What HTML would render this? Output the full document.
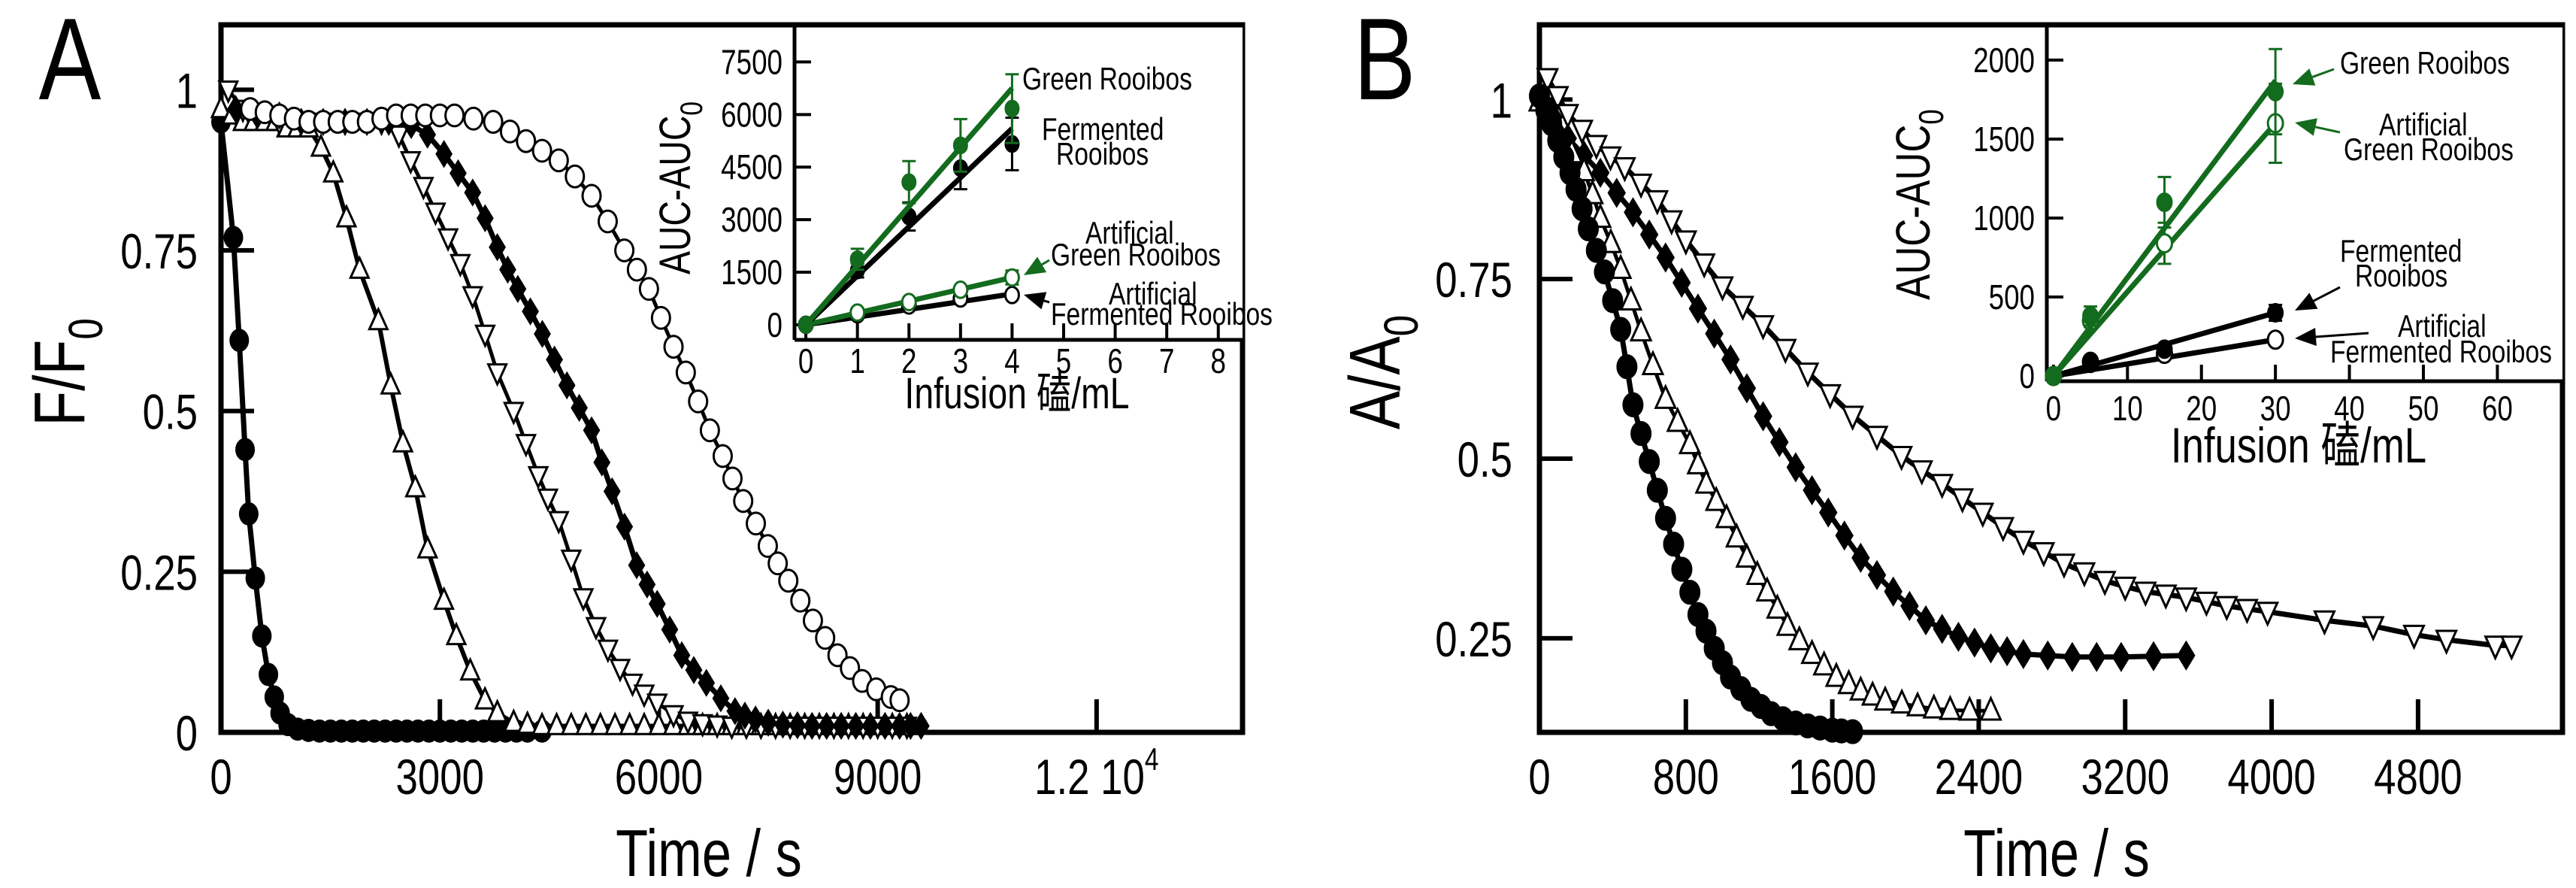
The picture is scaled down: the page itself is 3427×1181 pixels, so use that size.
<!DOCTYPE html>
<html><head><meta charset="utf-8"><style>
html,body{margin:0;padding:0;background:#fff;}
svg{display:block;}
text{font-family:"Liberation Sans Narrow","Liberation Sans","Noto Sans CJK SC",sans-serif;fill:#000;}
</style></head><body>
<svg id="fig" width="3427" height="1181" viewBox="0 0 3427 1181" xmlns="http://www.w3.org/2000/svg">
<g id="layer"></g>
</svg>
<script>
// ---------- Panel A main data ----------
const aTicksX = [0,3000,6000,9000,12000];
const aTickLabelsX = ["0","3000","6000","9000","1.2 10"];
const aTicksY = [0,0.25,0.5,0.75,1];
const aTickLabelsY = ["0","0.25","0.5","0.75","1"];
const a1T = [0,170,250,330,380,470,560,650,730,810,920,1050,1200,1350,1500,1650,1800,1950,2100,2250,2400,2550,2700,2850,3000,3150,3300,3450,3600,3750,3900,4050,4200,4400];
const a1V = [0.95,0.77,0.61,0.44,0.34,0.24,0.15,0.09,0.055,0.03,0.012,0.005,0.003,0.002,0.002,0.002,0.002,0.002,0.002,0.002,0.002,0.002,0.002,0.002,0.002,0.002,0.002,0.002,0.002,0.002,0.002,0.002,0.002,0.002];
const a2T = [0,150,300,450,600,750,900,1050,1202,1370,1539,1720,1899,2157,2326,2494,2663,2831,3056,3225,3416,3618,3787,4011,4200,4400,4600,4800,5000,5200,5400,5600,5800,6000,6200,6400,6600,6800,7000,7200,7400,7600,7800,8000,8200,8400,8600,8800,9000,9200,9400];
const a2V = [0.97,0.96,0.95,0.95,0.95,0.95,0.94,0.94,0.94,0.91,0.87,0.80,0.72,0.64,0.54,0.45,0.38,0.285,0.205,0.15,0.095,0.05,0.03,0.015,0.012,0.01,0.01,0.01,0.01,0.01,0.01,0.01,0.01,0.01,0.01,0.01,0.01,0.01,0.01,0.01,0.01,0.01,0.01,0.01,0.01,0.01,0.01,0.01,0.01,0.01,0.01];
const a3T = [100,300,500,800,1100,1400,1700,2000,2200,2438,2600,2775,2940,3112,3280,3449,3620,3787,4011,4180,4348,4480,4629,4800,4966,5140,5303,5470,5640,5800,5978,6202,6400,6600,6800,7000,7200,7400,7600,7800,8000,8200,8400,8600,8800,9000,9200,9400];
const a3V = [1.0,0.97,0.96,0.95,0.95,0.95,0.95,0.95,0.95,0.93,0.89,0.85,0.81,0.77,0.73,0.68,0.62,0.56,0.50,0.45,0.40,0.365,0.33,0.27,0.21,0.165,0.13,0.10,0.077,0.06,0.046,0.028,0.018,0.014,0.012,0.01,0.01,0.01,0.01,0.01,0.01,0.01,0.01,0.01,0.01,0.01,0.01,0.01];
const a4T = [200,500,800,1100,1400,1700,2000,2300,2607,2830,3056,3250,3449,3620,3787,3930,4068,4240,4404,4570,4741,4910,5079,5220,5360,5530,5697,5840,5978,6150,6315,6480,6652,6850,7045,7180,7326,7500,7700,7900,8100,8300,8500,8700,8900,9100,9300,9450,9595];
const a4V = [0.97,0.96,0.96,0.95,0.95,0.95,0.95,0.95,0.945,0.93,0.90,0.87,0.84,0.80,0.755,0.72,0.69,0.655,0.62,0.58,0.54,0.505,0.47,0.42,0.375,0.32,0.26,0.23,0.20,0.16,0.12,0.097,0.077,0.053,0.033,0.026,0.02,0.015,0.012,0.011,0.01,0.01,0.01,0.01,0.01,0.01,0.01,0.01,0.01];
const a5T = [400,600,800,1000,1200,1400,1600,1800,2000,2200,2400,2600,2800,3000,3200,3460,3730,3960,4180,4400,4629,4850,5079,5300,5528,5700,5865,6030,6202,6370,6539,6700,6876,7010,7157,7330,7494,7630,7775,7940,8112,8280,8449,8620,8787,8980,9180,9300];
const a5V = [0.97,0.965,0.96,0.955,0.95,0.95,0.95,0.95,0.95,0.955,0.96,0.96,0.96,0.96,0.96,0.955,0.95,0.935,0.92,0.905,0.89,0.865,0.835,0.795,0.75,0.72,0.69,0.645,0.60,0.56,0.515,0.47,0.43,0.395,0.36,0.325,0.29,0.263,0.236,0.205,0.174,0.147,0.12,0.10,0.08,0.067,0.055,0.05];
// ---------- Panel B main data ----------
const bTicksX = [0,800,1600,2400,3200,4000,4800];
const bTickLabelsX = ["0","800","1600","2400","3200","4000","4800"];
const bTicksY = [0.25,0.5,0.75,1];
const bTickLabelsY = ["0.25","0.5","0.75","1"];
const b1T = [0,35,67,100,133,167,200,233,267,311,355,400,444,478,511,555,600,644,689,733,778,822,866,910,955,1000,1044,1100,1155,1210,1266,1330,1400,1466,1533,1600,1650,1711];
const b1V = [1.005,0.985,0.966,0.943,0.92,0.898,0.875,0.848,0.82,0.79,0.76,0.72,0.68,0.628,0.575,0.535,0.496,0.456,0.417,0.381,0.346,0.314,0.283,0.26,0.236,0.216,0.196,0.18,0.165,0.155,0.145,0.138,0.132,0.128,0.125,0.122,0.121,0.12];
const b2T = [0,55,111,177,244,290,333,390,444,500,555,620,689,755,822,866,911,966,1022,1077,1133,1190,1244,1300,1355,1420,1489,1555,1622,1690,1755,1820,1889,1980,2066,2155,2244,2350,2466];
const b2V = [0.997,0.973,0.95,0.925,0.90,0.868,0.835,0.80,0.764,0.72,0.677,0.63,0.583,0.551,0.52,0.492,0.465,0.441,0.417,0.39,0.362,0.338,0.315,0.291,0.267,0.247,0.228,0.212,0.196,0.186,0.177,0.17,0.163,0.159,0.155,0.152,0.15,0.149,0.149];
const b3T = [0,77,155,244,333,422,511,600,689,777,866,955,1044,1133,1222,1311,1400,1489,1578,1666,1755,1844,1933,2022,2111,2200,2289,2377,2466,2555,2644,2777,2911,3044,3178,3355,3533];
const b3V = [1.005,0.975,0.946,0.922,0.898,0.87,0.843,0.812,0.78,0.745,0.709,0.674,0.638,0.598,0.559,0.523,0.488,0.456,0.425,0.393,0.362,0.338,0.315,0.295,0.275,0.263,0.252,0.244,0.236,0.232,0.228,0.226,0.224,0.224,0.224,0.225,0.226];
const b4T = [44,100,155,233,311,388,466,555,644,722,800,900,1000,1111,1222,1344,1466,1588,1711,1844,1978,2089,2200,2311,2422,2533,2644,2755,2866,2977,3089,3200,3311,3422,3533,3644,3755,3866,3978,4289,4555,4778,4955,5222,5311];
const b4V = [1.03,1.005,0.98,0.958,0.937,0.921,0.906,0.883,0.86,0.832,0.804,0.772,0.74,0.713,0.686,0.653,0.62,0.59,0.56,0.532,0.504,0.484,0.465,0.445,0.425,0.405,0.386,0.37,0.354,0.342,0.33,0.322,0.315,0.311,0.307,0.301,0.295,0.291,0.287,0.275,0.267,0.255,0.248,0.24,0.24];
// ---------- Inset A data ----------
const iaX = [0,1,2,3,4];
const iaGreen = [0,1870,4070,5120,6170];
const iaGreenErr = [0,300,600,750,980];
const iaGreenFit = [0,6750];
const iaFerm = [0,1550,3090,4470,5160];
const iaFermErr = [0,200,400,600,750];
const iaFermFit = [0,5600];
const iaArtGreen = [0,350,650,1000,1350];
const iaArtGreenErr = [0,60,80,100,200];
const iaArtGreenFit = [0,1350];
const iaArtFerm = [0,300,550,750,850];
const iaArtFermErr = [0,50,60,80,120];
const iaArtFermFit = [0,880];
const iaTicksX = [0,1,2,3,4,5,6,7,8];
const iaTicksY = [0,1500,3000,4500,6000,7500];
// ---------- Inset B data ----------
const ibX = [0,5,15,30];
const ibGreen = [0,380,1100,1800];
const ibGreenErr = [0,60,160,270];
const ibGreenFit = [0,1870];
const ibArtGreen = [0,350,840,1600];
const ibArtGreenErr = [0,40,130,250];
const ibArtGreenFit = [0,1600];
const ibFerm = [0,80,170,400];
const ibFermErr = [0,20,30,50];
const ibFermFit = [0,400];
const ibArtFerm = [0,90,140,230];
const ibArtFermErr = [0,15,20,30];
const ibArtFermFit = [0,230];
const ibTicksX = [0,10,20,30,40,50,60];
const ibTicksY = [0,500,1000,1500,2000];

const NS = "http://www.w3.org/2000/svg";
const layer = document.getElementById('layer');
const GREEN = "#136b1e";
const SX = 0.8;
function mk(tag, attrs, parent){
  const e = document.createElementNS(NS, tag);
  for (const k in attrs) e.setAttribute(k, attrs[k]);
  (parent||layer).appendChild(e);
  return e;
}
function lin(d0,d1,r0,r1){ return v => r0 + (v-d0)/(d1-d0)*(r1-r0); }

const axA = lin(0,14000,294,1653), ayA = lin(0,1.101,974,33);
const axB = lin(0,5589,2048,3409), ayB = lin(0.119,1.104,974,33);
const axIA = lin(-0.22,8.47,1057,1653), ayIA = lin(-430,8560,452,33);
const axIB = lin(-0.9,68.8,2723,3409), ayIB = lin(-33,1990,507,82);

function marker(g, type, x, y, r, color){
  let e;
  const c = color || "#000";
  if (type==='fc'){ e = mk('ellipse',{cx:x,cy:y,rx:r,ry:r*1.2,fill:c,stroke:c,'stroke-width':2},g); }
  else if (type==='oc'){ e = mk('ellipse',{cx:x,cy:y,rx:r,ry:r*1.2,fill:'#fff',stroke:c,'stroke-width':3},g); }
  else if (type==='ut'){ e = mk('polygon',{points:`${x},${y-r*1.3} ${x-r},${y+r*0.9} ${x+r},${y+r*0.9}`,fill:'#fff',stroke:c,'stroke-width':3},g); }
  else if (type==='dt'){ e = mk('polygon',{points:`${x},${y+r*1.3} ${x-r},${y-r*0.9} ${x+r},${y-r*0.9}`,fill:'#fff',stroke:c,'stroke-width':3},g); }
  else { e = mk('polygon',{points:`${x},${y-r*1.4} ${x+r*0.85},${y} ${x},${y+r*1.4} ${x-r*0.85},${y}`,fill:c,stroke:c,'stroke-width':2},g); }
  
  
}
function series(name, T, V, ax, ay, type, r, lw){
  const g = mk('g',{});
  
  
  const pts = T.map((t,i)=>ax(t).toFixed(1)+','+ay(V[i]).toFixed(1)).join(' ');
  const l = mk('polyline',{points:pts,fill:'none',stroke:'#000','stroke-width':lw,'stroke-linejoin':'round'},g);
  
  
  T.forEach((t,i)=>marker(g,type,ax(t),ay(V[i]),r));
}
function text(str, x, y, size, anchor, extra){
  const t = mk('text', Object.assign({x:0,y:0,'font-size':size,'text-anchor':anchor||'middle',transform:`translate(${x},${y}) scale(${SX},1)`}, extra||{}));
  t.textContent = str;
  return t;
}
function frame(name,x0,y0,x1,y1){
  const r = mk('rect',{x:x0,y:y0,width:x1-x0,height:y1-y0,fill:'none',stroke:'#000','stroke-width':7});
  
  
}

// Panel A
frame('panel-a-frame',294,33,1653,974);
aTicksX.forEach((v,i)=>{
  const x = axA(v);
  mk('line',{x1:x,y1:974,x2:x,y2:930,stroke:'#000','stroke-width':6});
  const t = text(aTickLabelsX[i], x, 1056, 66);
  
  
  if (i===4){ const s = document.createElementNS(NS,'tspan'); s.setAttribute('dy','-32'); s.setAttribute('font-size','42'); s.textContent='4'; t.appendChild(s); }
});
aTicksY.forEach((v,i)=>{
  const y = ayA(v);
  mk('line',{x1:294,y1:y,x2:338,y2:y,stroke:'#000','stroke-width':6});
  const t = text(aTickLabelsY[i], 263, y+24, 66, 'end');
  
  
});
const axtA = text('Time / s', 943, 1165, 88);


const aytA = mk('text',{x:0,y:0,'font-size':96,'text-anchor':'middle',transform:`translate(112,495) rotate(-90) scale(${SX},1)`});
aytA.innerHTML = 'F/F<tspan font-size="64" dy="24">0</tspan>';


const la = text('A', 93, 132, 155);



series('series-a-filled-circle', a1T, a1V, axA, ayA, 'fc', 12, 7);
series('series-a-up-triangle', a2T, a2V, axA, ayA, 'ut', 12, 6);
series('series-a-down-triangle', a3T, a3V, axA, ayA, 'dt', 12, 5);
series('series-a-filled-diamond', a4T, a4V, axA, ayA, 'fd', 12, 7);
series('series-a-open-circle', a5T, a5V, axA, ayA, 'oc', 12, 5);

// Panel B
frame('panel-b-frame',2048,33,3409,974);
bTicksX.forEach((v,i)=>{
  const x = axB(v);
  mk('line',{x1:x,y1:974,x2:x,y2:930,stroke:'#000','stroke-width':6});
  const t = text(bTickLabelsX[i], x, 1056, 66);
  
  
});
bTicksY.forEach((v,i)=>{
  const y = ayB(v);
  mk('line',{x1:2048,y1:y,x2:2092,y2:y,stroke:'#000','stroke-width':6});
  const t = text(bTickLabelsY[i], 2012, y+24, 66, 'end');
  
  
});
const axtB = text('Time / s', 2736, 1165, 88);


const aytB = mk('text',{x:0,y:0,'font-size':96,'text-anchor':'middle',transform:`translate(1862,495) rotate(-90) scale(${SX},1)`});
aytB.innerHTML = 'A/A<tspan font-size="64" dy="24">0</tspan>';


const lb = text('B', 1842, 132, 155);



series('series-b-down-triangle', b4T, b4V, axB, ayB, 'dt', 13, 7);
series('series-b-filled-diamond', b3T, b3V, axB, ayB, 'fd', 13, 7);
series('series-b-up-triangle', b2T, b2V, axB, ayB, 'ut', 13, 5);
series('series-b-filled-circle', b1T, b1V, axB, ayB, 'fc', 13, 7);

// ---------- insets ----------
function inset(pfx, x0, y0, x1, y1, ax, ay, ticksX, ticksY, lblX, lblYright){
  const bg = mk('rect',{x:x0,y:y0,width:x1-x0,height:y1-y0,fill:'#fff'});
  
  
  mk('line',{x1:x0,y1:y0,x2:x0,y2:y1,stroke:'#000','stroke-width':5});
  mk('line',{x1:x0,y1:y1,x2:x1,y2:y1,stroke:'#000','stroke-width':5});
  mk('line',{x1:x0,y1:y0,x2:x1,y2:y0,stroke:'#000','stroke-width':7});
  ticksX.forEach(v=>{
    const x = ax(v);
    mk('line',{x1:x,y1:y1,x2:x,y2:y1-22,stroke:'#000','stroke-width':4});
    const t = text(String(v), x, lblX, 46);
    
    
  });
  ticksY.forEach(v=>{
    const y = ay(v);
    mk('line',{x1:x0,y1:y,x2:x0+22,y2:y,stroke:'#000','stroke-width':4});
    const t = text(String(v), lblYright, y+16, 46, 'end');
    
    
  });
}
function iseries(name, X, Y, E, fit, ax, ay, filled, color, r){
  const g = mk('g',{});
  
  
  const l = mk('line',{x1:ax(X[0]),y1:ay(fit[0]),x2:ax(X[X.length-1]),y2:ay(fit[1]),stroke:color,'stroke-width':7},g);
  
  
  X.forEach((x,i)=>{
    if (E[i]>0){
      const px = ax(x), t = ay(Y[i]+E[i]), b = ay(Y[i]-E[i]);
      const eb = mk('path',{d:`M${px},${t}V${b}M${px-9},${t}H${px+9}M${px-9},${b}H${px+9}`,stroke:color,'stroke-width':3,fill:'none'},g);
      
      
    }
    marker(g, filled?'fc':'oc', ax(x), ay(Y[i]), r, color);
  });
}
function arrow(x1,y1,x2,y2,color){
  const a = Math.atan2(y2-y1,x2-x1), L=28, W=12;
  const bx = x2 - L*Math.cos(a), by = y2 - L*Math.sin(a);
  const g = mk('g',{});
  
  
  mk('line',{x1:x1,y1:y1,x2:bx,y2:by,stroke:color,'stroke-width':3},g);
  mk('polygon',{points:`${x2},${y2} ${bx+W*Math.sin(a)},${by-W*Math.cos(a)} ${bx-W*Math.sin(a)},${by+W*Math.cos(a)}`,fill:color},g);
}
function note(str,x,y,color,name){
  const t = text(str,x,y,42,'start',{fill:color});
  
  
}

// Inset A
inset('inset-a',1057,33,1653,452,axIA,ayIA,iaTicksX,iaTicksY,496,1041);
iseries('inset-a-artificial-fermented', iaX, iaArtFerm, iaArtFermErr, iaArtFermFit, axIA, ayIA, false, '#000', 9);
iseries('inset-a-artificial-green', iaX, iaArtGreen, iaArtGreenErr, iaArtGreenFit, axIA, ayIA, false, GREEN, 9);
iseries('inset-a-fermented', iaX, iaFerm, iaFermErr, iaFermFit, axIA, ayIA, true, '#000', 9);
iseries('inset-a-green', iaX, iaGreen, iaGreenErr, iaGreenFit, axIA, ayIA, true, GREEN, 9);
const iayt = mk('text',{x:0,y:0,'font-size':58,'text-anchor':'middle',transform:`translate(918,250) rotate(-90) scale(${SX},1)`});
iayt.innerHTML = 'AUC-AUC<tspan font-size="42" dy="16">0</tspan>';


const iaxt = text('Infusion 磕/mL', 1353, 543, 58);


note('Green Rooibos',1360,119,GREEN,'label-green-rooibos');
note('Fermented',1386,186,'#000','label-fermented-rooibos');
note('Rooibos',1405,219,'#000','label-fermented-rooibos-2');
note('Artificial',1444,324,GREEN,'label-artificial-green');
note('Green Rooibos',1398,353,GREEN,'label-artificial-green-2');
arrow(1396,346,1362,366,GREEN);
note('Artificial',1475,405,'#000','label-artificial-fermented');
note('Fermented  Rooibos',1398,432,'#000','label-artificial-fermented-2');
arrow(1396,402,1362,392,'#000');

// Inset B
inset('inset-b',2723,33,3409,507,axIB,ayIB,ibTicksX,ibTicksY,559,2707);
iseries('inset-b-artificial-fermented', ibX, ibArtFerm, ibArtFermErr, ibArtFermFit, axIB, ayIB, false, '#000', 10);
iseries('inset-b-fermented', ibX, ibFerm, ibFermErr, ibFermFit, axIB, ayIB, true, '#000', 10);
iseries('inset-b-artificial-green', ibX, ibArtGreen, ibArtGreenErr, ibArtGreenFit, axIB, ayIB, false, GREEN, 10);
iseries('inset-b-green', ibX, ibGreen, ibGreenErr, ibGreenFit, axIB, ayIB, true, GREEN, 10);
const ibyt = mk('text',{x:0,y:0,'font-size':64,'text-anchor':'middle',transform:`translate(2567,272) rotate(-90) scale(${SX},1)`});
ibyt.innerHTML = 'AUC-AUC<tspan font-size="46" dy="18">0</tspan>';


const ibxt = text('Infusion 磕/mL', 3058, 615, 66);


note('Green Rooibos',3113,98,GREEN,'label-b-green-rooibos');
arrow(3105,92,3050,112,GREEN);
note('Artificial',3165,180,GREEN,'label-b-artificial-green');
note('Green Rooibos',3118,213,GREEN,'label-b-artificial-green-2');
arrow(3113,176,3053,163,GREEN);
note('Fermented',3113,348,'#000','label-b-fermented');
note('Rooibos',3133,381,'#000','label-b-fermented-2');
arrow(3113,382,3053,413,'#000');
note('Artificial',3190,448,'#000','label-b-artificial-fermented');
note('Fermented  Rooibos',3100,482,'#000','label-b-artificial-fermented-2');
arrow(3151,443,3053,450,'#000');
</script>
</body></html>
